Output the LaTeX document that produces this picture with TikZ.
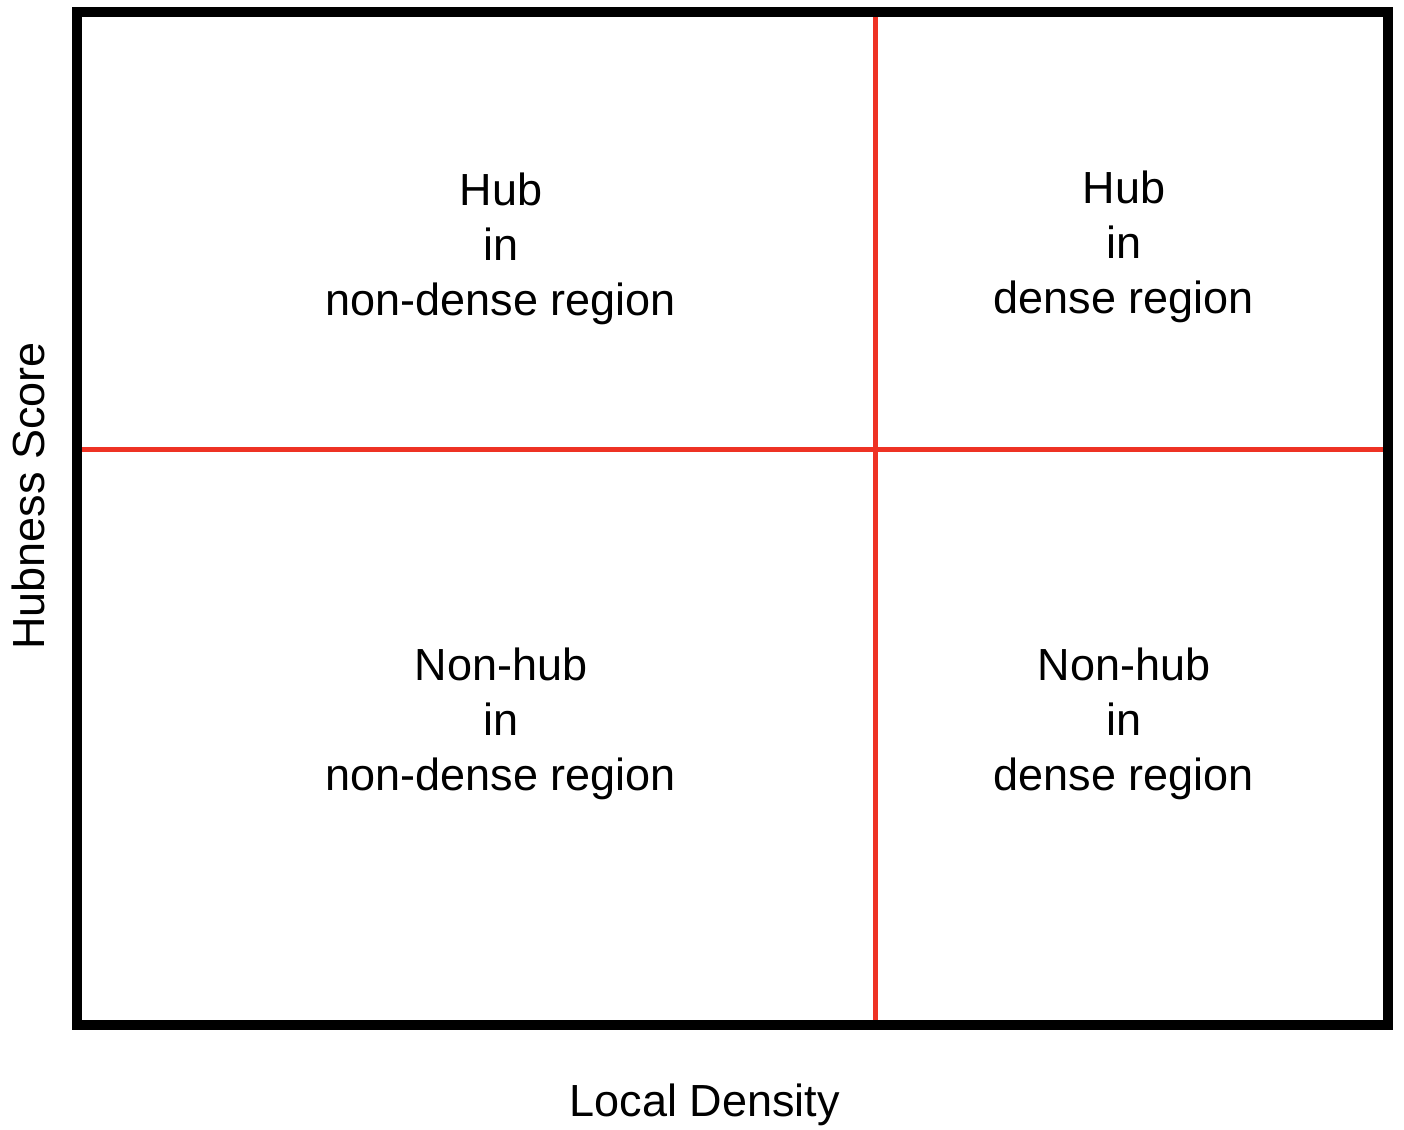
\documentclass[tikz,border=0pt]{standalone}
\usepackage{fontspec}
\setmainfont{Liberation Sans}
\definecolor{qred}{RGB}{238,50,36}
\begin{document}
\begin{tikzpicture}[x=1pt,y=-1pt,
  quadtext/.style={align=center,inner sep=0pt,font=\fontsize{45}{55}\selectfont},
  axistext/.style={inner sep=0pt,font=\fontsize{45}{52}\selectfont},
  divider/.style={draw=qred,line width=5pt},
  frame/.style={draw=black,line width=10pt}]
\useasboundingbox (0,0) rectangle (1404,1129);
\coordinate (tl) at (77,12);
\coordinate (br) at (1388,1025);
\coordinate (vt) at (875.5,17);
\coordinate (vb) at (875.5,1020);
\coordinate (hl) at (82,449.5);
\coordinate (hr) at (1383,449.5);
\draw[divider] (vt) -- (vb);
\draw[divider] (hl) -- (hr);
\draw[frame] (tl) rectangle (br);
\node[quadtext] (q1) at (501,249) {Hub\\in\\non-dense region};
\node[quadtext] (q2) at (1124,247) {Hub\\in\\dense region};
\node[quadtext] (q3) at (501,724) {Non-hub\\in\\non-dense region};
\node[quadtext] (q4) at (1124,724) {Non-hub\\in\\dense region};
\node[axistext] (xl) at (705,1105) {Local Density};
\node[axistext,rotate=90] (yl) at (28,496) {Hubness Score};
\end{tikzpicture}
\end{document}
